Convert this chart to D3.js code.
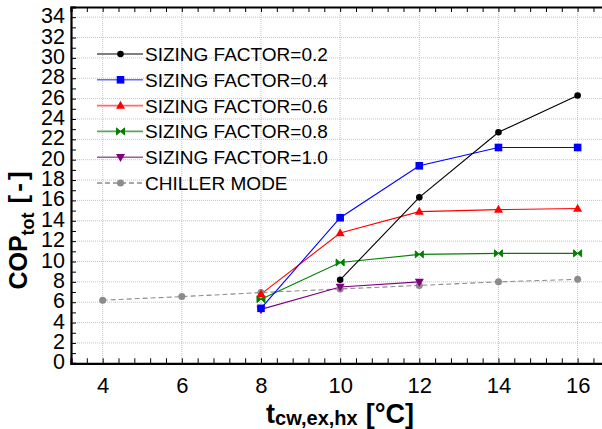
<!DOCTYPE html>
<html>
<head>
<meta charset="utf-8">
<script src="https://cdn.jsdelivr.net/npm/d3@7"></script>
<style>
  html, body { margin: 0; padding: 0; background: #fff; }
  svg { display: block; font-family: "Liberation Sans", Arial, sans-serif; }
</style>
</head>
<body>
<svg id="chart" width="602" height="429"></svg>
<script>
// ---- data ----
const xTicks = [4, 6, 8, 10, 12, 14, 16];
const yTicks = [0, 2, 4, 6, 8, 10, 12, 14, 16, 18, 20, 22, 24, 26, 28, 30, 32, 34];

const seriesNames = ["SIZING FACTOR=0.2", "SIZING FACTOR=0.4", "SIZING FACTOR=0.6",
                     "SIZING FACTOR=0.8", "SIZING FACTOR=1.0", "CHILLER MODE"];

const sf02X = [10, 12, 14, 16];
const sf02Y = [8.2, 16.3, 22.7, 26.3];
const sf04X = [8, 10, 12, 14, 16];
const sf04Y = [5.4, 14.3, 19.4, 21.2, 21.2];
const sf06X = [8, 10, 12, 14, 16];
const sf06Y = [6.8, 12.8, 14.9, 15.1, 15.2];
const sf08X = [8, 10, 12, 14, 16];
const sf08Y = [6.3, 9.9, 10.7, 10.8, 10.8];
const sf10X = [8, 10, 12];
const sf10Y = [5.3, 7.5, 8.0];
const chillerX = [4, 6, 8, 10, 12, 14, 16];
const chillerY = [6.2, 6.55, 6.95, 7.3, 7.65, 8.0, 8.25];

(function () {
// ---- layout ----
const svg = d3.select("#chart");
const pLeft = 71, pTop = 7, pBottom = 363.3;
const x = d3.scaleLinear().domain([3.2, 16.8]).range([pLeft, pLeft + 13.6 * 39.58]);
const y = d3.scaleLinear().domain([0, 35]).range([pBottom, pTop]);
const pRight = x(16.8);

const series = [
  {name: seriesNames[0], xs: sf02X, ys: sf02Y, color: "#000000", legendColor: "#555555", marker: "circle", dash: null},
  {name: seriesNames[1], xs: sf04X, ys: sf04Y, color: "#0000ff", legendColor: "#6a6aff", marker: "square", dash: null},
  {name: seriesNames[2], xs: sf06X, ys: sf06Y, color: "#ff0000", legendColor: "#ff6a6a", marker: "triangle", dash: null},
  {name: seriesNames[3], xs: sf08X, ys: sf08Y, color: "#008000", legendColor: "#5aa55a", marker: "bowtie", dash: null},
  {name: seriesNames[4], xs: sf10X, ys: sf10Y, color: "#800080", legendColor: "#a05aa0", marker: "triangleDown", dash: null},
  {name: seriesNames[5], xs: chillerX, ys: chillerY, color: "#8c8c8c", legendColor: "#8c8c8c", marker: "dot", dash: "5,3"}
];

// ---- grid ----
const grid = svg.append("g");
grid.selectAll("line.h").data(yTicks.filter(d => d > 0)).join("line")
  .attr("x1", pLeft).attr("x2", pRight)
  .attr("y1", d => y(d)).attr("y2", d => y(d))
  .attr("stroke", "#c4c4c4").attr("stroke-width", 1).attr("stroke-dasharray", "1,1");
grid.selectAll("line.v").data(xTicks).join("line")
  .attr("x1", d => x(d)).attr("x2", d => x(d))
  .attr("y1", pTop).attr("y2", pBottom)
  .attr("stroke", "#c4c4c4").attr("stroke-width", 1).attr("stroke-dasharray", "1,1");

// ---- axes ----
const minorX = d3.range(0, 35).map(i => 3.2 + i * 0.4).filter(v => v <= 16.8);
const minorY = d3.range(0, 36);

const axB = svg.append("g").attr("transform", `translate(0,${pBottom})`)
  .call(d3.axisBottom(x).tickValues(minorX).tickSize(-5).tickFormat(""));
const axT = svg.append("g").attr("transform", `translate(0,${pTop})`)
  .call(d3.axisTop(x).tickValues(minorX).tickSize(-5).tickFormat(""));
const axL = svg.append("g").attr("transform", `translate(${pLeft},0)`)
  .call(d3.axisLeft(y).tickValues(minorY).tickSize(-5).tickFormat(""));
[axB, axT, axL].forEach(a => {
  a.select(".domain").attr("stroke", "#000").attr("stroke-width", 2.2);
  a.selectAll(".tick line").attr("stroke", "#000").attr("stroke-width", 1);
});

// tick labels via axes
const xLab = svg.append("g").attr("transform", `translate(0,${pBottom})`)
  .call(d3.axisBottom(x).tickValues(xTicks).tickSize(0).tickPadding(0).tickFormat(d3.format("d")));
xLab.select(".domain").remove();
xLab.selectAll("text").attr("font-size", 22).attr("fill", "#000")
  .attr("font-family", "Liberation Sans, Arial, sans-serif").attr("dy", null).attr("y", 30);

const yLab = svg.append("g").attr("transform", `translate(${pLeft},0)`)
  .call(d3.axisLeft(y).tickValues(yTicks).tickSize(0).tickPadding(6).tickFormat(d3.format("d")));
yLab.select(".domain").remove();
yLab.selectAll("text").attr("font-size", 21.5).attr("fill", "#000")
  .attr("font-family", "Liberation Sans, Arial, sans-serif").attr("dy", null).attr("y", 5.5);

// ---- markers ----
function drawMarker(g, type, color, cx, cy) {
  if (type === "circle") {
    g.append("circle").attr("cx", cx).attr("cy", cy).attr("r", 3.3).attr("fill", color);
  } else if (type === "dot") {
    g.append("circle").attr("cx", cx).attr("cy", cy).attr("r", 3.5).attr("fill", color);
  } else if (type === "square") {
    g.append("rect").attr("x", cx - 3.8).attr("y", cy - 3.8).attr("width", 7.6).attr("height", 7.6).attr("fill", color);
  } else if (type === "triangle") {
    g.append("path").attr("d", `M${cx},${cy - 4.8}L${cx + 4.5},${cy + 3.2}L${cx - 4.5},${cy + 3.2}Z`).attr("fill", color);
  } else if (type === "triangleDown") {
    g.append("path").attr("d", `M${cx},${cy + 4.8}L${cx + 4.5},${cy - 3.2}L${cx - 4.5},${cy - 3.2}Z`).attr("fill", color);
  } else if (type === "bowtie") {
    g.append("path").attr("d", `M${cx - 4},${cy - 3.5}L${cx + 4},${cy + 3.5}L${cx + 4},${cy - 3.5}L${cx - 4},${cy + 3.5}Z`)
      .attr("fill", color).attr("stroke", color).attr("stroke-width", 1);
  }
}

// ---- series (draw chiller first, then others) ----
const line = d3.line().x(d => x(d[0])).y(d => y(d[1]));
const order = [5, 4, 3, 2, 1, 0];
order.forEach(i => {
  const s = series[i];
  const pts = s.xs.map((v, k) => [v, s.ys[k]]);
  const g = svg.append("g");
  g.append("path").attr("d", line(pts)).attr("fill", "none")
    .attr("stroke", s.color).attr("stroke-width", 1.1)
    .attr("stroke-dasharray", s.dash);
});
order.forEach(i => {
  const s = series[i];
  const g = svg.append("g");
  s.xs.forEach((v, k) => drawMarker(g, s.marker, s.color, x(v), y(s.ys[k])));
});

// ---- legend ----
const leg = svg.append("g");
series.forEach((s, i) => {
  const ly = 54 + i * 25.8;
  leg.append("line").attr("x1", 97).attr("x2", 143).attr("y1", ly).attr("y2", ly)
    .attr("stroke", s.legendColor).attr("stroke-width", 1.6).attr("stroke-dasharray", s.dash);
  drawMarker(leg, s.marker, s.color, 120.5, ly);
  leg.append("text").attr("x", 145).attr("y", ly + 7).attr("font-size", 19).attr("fill", "#000")
    .text(s.name);
});

// ---- axis titles ----
const yt = svg.append("text").attr("transform", "translate(27,229) rotate(-90)")
  .attr("text-anchor", "middle").attr("font-weight", "bold").attr("font-size", 25).attr("fill", "#000");
yt.append("tspan").text("COP");
yt.append("tspan").attr("font-size", 18).attr("dy", 7).text("tot");
yt.append("tspan").attr("dy", -7).attr("dx", 9).attr("font-size", 26).attr("letter-spacing", 3).text("[-]");

const xt = svg.append("text").attr("x", 340).attr("y", 422.5)
  .attr("text-anchor", "middle").attr("font-weight", "bold").attr("font-size", 27).attr("fill", "#000");
xt.append("tspan").text("t");
xt.append("tspan").attr("font-size", 20).attr("dy", 2).text("cw,ex,hx");
xt.append("tspan").attr("dy", -2).attr("dx", 8).text("[°C]");
})();
</script>
</body>
</html>
